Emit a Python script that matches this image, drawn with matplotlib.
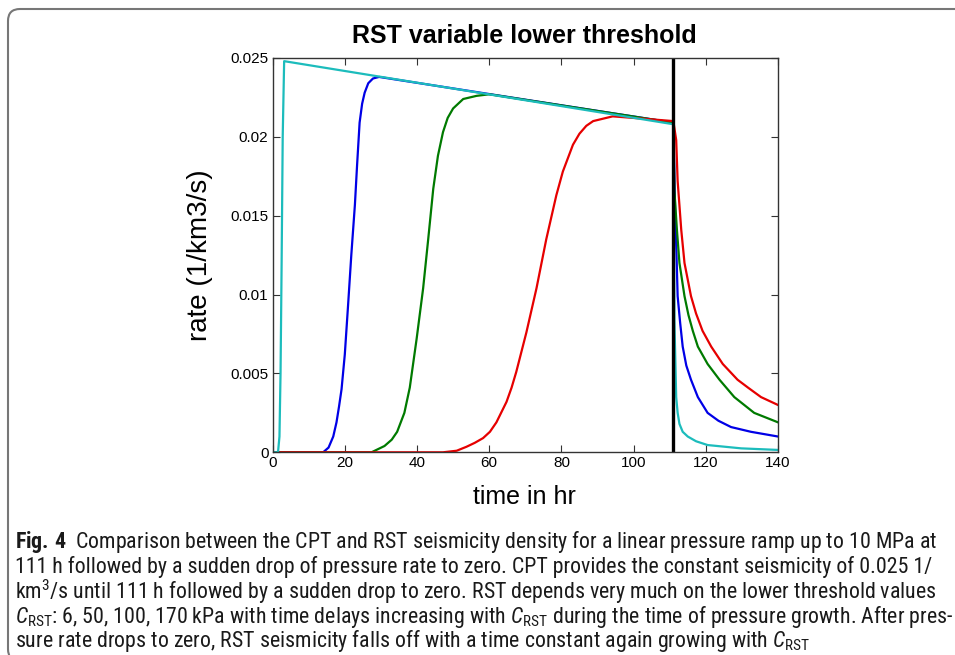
import numpy as np
import matplotlib
matplotlib.use("Agg")
import matplotlib.pyplot as plt
from matplotlib import font_manager
from matplotlib.patches import FancyBboxPatch
from matplotlib.transforms import IdentityTransform

# values (time in hr, rate in 1/km3/s)
cyan_t = [0, 1.5, 1.9, 2.2, 2.5, 2.8, 3.2, 111.0, 111.3, 111.8, 112.2, 112.7, 113.6, 115.0, 117.3, 120.5, 129.8, 140]
cyan_v = [0, 0, 0.001, 0.005, 0.012, 0.020, 0.0248, 0.0208, 0.0084, 0.0035, 0.0025, 0.0018, 0.0013, 0.0010, 0.0007, 0.00046, 0.00025, 0.00015]

blue_t = [0, 14.0, 15.5, 16.8, 17.7, 18.4, 19.1, 20.0, 20.9, 21.8, 22.8, 23.4, 24.1, 24.8, 25.5, 26.5, 27.8, 29.5, 111.0,
          111.5, 111.9, 112.2, 112.9, 113.6, 114.6, 115.9, 117.8, 120.5, 123.5, 127.0, 132.5, 140]
blue_v = [0, 0, 0.0003, 0.001, 0.0019, 0.0029, 0.0040, 0.0062, 0.0093, 0.0125, 0.0157, 0.0182, 0.0209, 0.0221, 0.0228, 0.0234, 0.0237, 0.0238, 0.0209,
          0.0153, 0.0124, 0.0099, 0.0082, 0.0067, 0.0055, 0.0046, 0.0035, 0.0025, 0.0020, 0.0016, 0.0013, 0.0010]

green_t = [0, 27.4, 31.0, 33.0, 34.5, 36.5, 38.0, 39.9, 41.7, 43.1, 44.5, 45.8, 47.2, 48.5, 50.0, 52.8, 56.5, 60.0, 111.0,
           111.3, 112.0, 112.7, 114.1, 115.2, 116.4, 117.8, 120.5, 123.8, 127.9, 133.4, 140]
green_v = [0, 0, 0.0004, 0.0008, 0.0013, 0.0025, 0.0041, 0.0072, 0.0104, 0.0135, 0.0167, 0.0188, 0.0203, 0.0212, 0.0218, 0.0224, 0.0226, 0.0227, 0.0209,
           0.0166, 0.0141, 0.0120, 0.0099, 0.0087, 0.0077, 0.0067, 0.0056, 0.0046, 0.0035, 0.0025, 0.0019]

red_t = [1.5, 47.2, 51.0, 53.7, 56.0, 58.3, 60.2, 62.0, 64.8, 66.2, 67.5, 70.3, 73.1, 75.8, 78.6, 80.4, 83.2, 85.0, 86.9, 88.8, 90.6, 94.2, 100.0, 111.0,
         111.8, 112.2, 113.2, 114.1, 115.9, 117.3, 119.1, 121.5, 124.7, 128.8, 131.7, 135.3, 140]
red_v = [0, 0, 0.0001, 0.00035, 0.0006, 0.0009, 0.0013, 0.0019, 0.0032, 0.0041, 0.0051, 0.0076, 0.0104, 0.0135, 0.0163, 0.0178, 0.0195, 0.0202, 0.0207, 0.0210, 0.0211, 0.0213, 0.0212, 0.0210,
         0.0198, 0.0172, 0.0141, 0.0120, 0.0099, 0.0088, 0.0077, 0.0067, 0.0056, 0.0046, 0.0041, 0.0035, 0.0030]

drop_time = 111
x_ticks = [0, 20, 40, 60, 80, 100, 120, 140]
y_ticks = [0, 0.005, 0.01, 0.015, 0.02, 0.025]
y_ticklabels = ["0", "0.005", "0.01", "0.015", "0.02", "0.025"]

caption = [
    r"$\mathbf{Fig.\,4}$  Comparison between the CPT and RST seismicity density for a linear pressure ramp up to 10 MPa at",
    "111 h followed by a sudden drop of pressure rate to zero. CPT provides the constant seismicity of 0.025 1/",
    r"km$^3$/s until 111 h followed by a sudden drop to zero. RST depends very much on the lower threshold values",
    r"$C_{\mathrm{RST}}$: 6, 50, 100, 170 kPa with time delays increasing with $C_{\mathrm{RST}}$ during the time of pressure growth. After pres-",
    r"sure rate drops to zero, RST seismicity falls off with a time constant again growing with $C_{\mathrm{RST}}$",
]


def pick_font(names):
    for n in names:
        try:
            font_manager.findfont(n, fallback_to_default=False)
            return n
        except ValueError:
            pass
    return "DejaVu Sans"


cap_font = pick_font(["Roboto Condensed", "Open Sans Condensed", "Liberation Sans Narrow", "Roboto", "Open Sans"])
plt.rcParams["mathtext.fontset"] = "custom"
plt.rcParams["mathtext.rm"] = cap_font
plt.rcParams["mathtext.it"] = cap_font + ":italic"
plt.rcParams["mathtext.bf"] = cap_font + ":bold"
plt.rcParams["font.family"] = ["Liberation Sans", "DejaVu Sans"]

W, H = 955, 655
fig = plt.figure(figsize=(W / 100, H / 100), dpi=100)

# rounded frame around figure + caption
frame = FancyBboxPatch((8, -6), 1000, H + 6 - 9, boxstyle="round,pad=0,rounding_size=12",
                       transform=IdentityTransform(), fill=False, edgecolor="#777777", linewidth=1.5)
fig.add_artist(frame)

ax = fig.add_axes([272.6 / W, 1 - 452.3 / H, (778 - 272.6) / W, (452.3 - 58) / H])
ax.plot(blue_t, blue_v, color="#0000e6", lw=1.6)
ax.plot(green_t, green_v, color="#007a00", lw=1.6)
ax.plot(red_t, red_v, color="#e60000", lw=1.6)
ax.plot(cyan_t, cyan_v, color="#1cbcbc", lw=1.6)
ax.plot([drop_time, drop_time], [0, 0.025], color="black", lw=2.4)

ax.set_xlim(0, 140)
ax.set_ylim(0, 0.025)
ax.set_xticks(x_ticks)
ax.set_xticklabels([str(v) for v in x_ticks], fontsize=11)
ax.set_yticks(y_ticks)
ax.set_yticklabels(y_ticklabels, fontsize=11)
ax.tick_params(direction="in", length=5, top=True, right=True, width=0.8, color="#333333", pad=3)
for s in ax.spines.values():
    s.set_linewidth(1.0)
    s.set_color("#333333")

fig.text(524 / W, 1 - 36 / H, "RST variable lower threshold", ha="center", va="center",
         fontsize=18, fontweight="bold")
fig.text(524 / W, 1 - 497 / H, "time in hr", ha="center", va="center", fontsize=18)
fig.text(200 / W, 1 - 255 / H, "rate (1/km3/s)", ha="center", va="center", fontsize=20, rotation=90)

# caption, size fitted so the third line runs from x=15 to x=941 like the reference
line_y = [542, 567, 592, 617, 641]
cap_texts = []
for txt, yc in zip(caption, line_y):
    cap_texts.append(fig.text(15 / W, 1 - yc / H, txt, ha="left", va="center", fontsize=14,
                              family=cap_font, color="#1a1a1a"))
renderer = fig.canvas.get_renderer()
width3 = cap_texts[2].get_window_extent(renderer).width
size = 14 * 926 / width3
for t in cap_texts:
    t.set_fontsize(size)

fig.savefig("out.png", dpi=100)
